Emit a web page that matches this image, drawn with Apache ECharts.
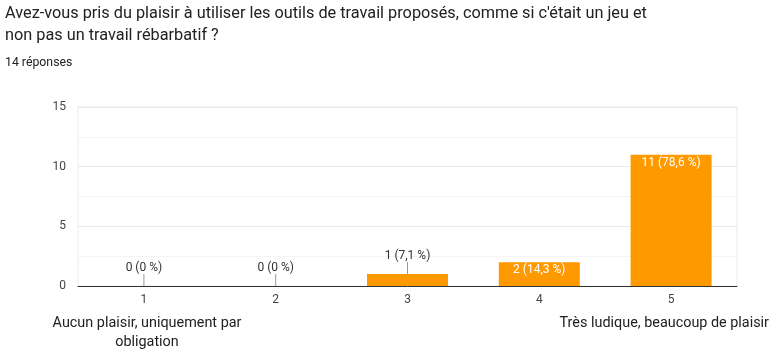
<!DOCTYPE html>
<html><head><meta charset="utf-8">
<script src="https://cdn.jsdelivr.net/npm/echarts@6/dist/echarts.min.js"></script>
<style>html,body{margin:0;padding:0;background:#fff}#c{width:780px;height:357px}</style>
</head><body><div id="c"></div>
<script>
const titleLines = ["Avez-vous pris du plaisir à utiliser les outils de travail proposés, comme si c'était un jeu et", "non pas un travail rébarbatif ?"];
const subtitle = "14 réponses";
const categories = ["1", "2", "3", "4", "5"];
const counts = [0, 0, 1, 2, 11];
const percents = ["0", "0", "7,1", "14,3", "78,6"];
const yTicks = [0, 5, 10, 15];
const lowLabel = ["Aucun plaisir, uniquement par", "obligation"];
const highLabel = "Très ludique, beaucoup de plaisir";

const FONT = "Roboto, 'Noto Sans', Arial, sans-serif";
const INSIDE_MIN = 2;

// pick a font size so a text line spans a target width (layout only)
const ctx = document.createElement('canvas').getContext('2d');
function fitSize(text, targetWidth, base) {
  ctx.font = base + 'px ' + FONT;
  const w = ctx.measureText(text).width;
  return Math.round(base * targetWidth / w * 10) / 10;
}
const titleSize = fitSize(titleLines[0], 644, 16);
const subSize = fitSize(subtitle, 67.5, 12);
const lowSize = fitSize(lowLabel[0], 189, 14);
const highSize = fitSize(highLabel, 209, 14);

const barData = counts.map((v, i) => {
  const inside = v >= INSIDE_MIN;
  return {
    value: v,
    label: inside
      ? { position: 'insideTop', distance: 2, color: '#ffffff' }
      : { position: 'top', distance: 12, color: '#333333' }
  };
});

const chart = echarts.init(document.getElementById('c'), null, { renderer: 'canvas' });
chart.setOption({
  animation: false,
  textStyle: { fontFamily: FONT },
  title: [
    { text: titleLines.join('\n'), left: 5, top: 3, padding: 0,
      textStyle: { fontFamily: FONT, fontSize: titleSize, fontWeight: 'normal', color: '#202124', lineHeight: 22 } },
    { text: subtitle, left: 5, top: 56, padding: 0,
      textStyle: { fontFamily: FONT, fontSize: subSize, fontWeight: 'normal', color: '#202124', lineHeight: 14 } }
  ],
  grid: { left: 78, right: 43, top: 107, bottom: 71, show: true, borderColor: '#ebebeb', borderWidth: 1 },
  xAxis: {
    type: 'category', data: categories,
    axisLine: { lineStyle: { color: '#333333', width: 1 } },
    axisTick: { show: false },
    axisLabel: { color: '#444444', fontSize: 12, margin: 8, fontFamily: FONT }
  },
  yAxis: {
    type: 'value', min: yTicks[0], max: yTicks[yTicks.length - 1], interval: 5,
    axisLine: { show: false }, axisTick: { show: false },
    axisLabel: { color: '#444444', fontSize: 12, margin: 12, fontFamily: FONT },
    splitLine: { lineStyle: { color: '#e8e8e8' } },
    minorTick: { show: false, splitNumber: 2 },
    minorSplitLine: { show: true, lineStyle: { color: '#f4f4f4' } }
  },
  series: [
    {
      type: 'bar', data: barData, barWidth: 81,
      itemStyle: { color: '#ff9900' },
      label: {
        show: true, fontSize: 12, fontFamily: FONT,
        formatter: p => p.value + ' (' + percents[p.dataIndex] + ' %)'
      },
      z: 2
    },
    {
      type: 'custom', z: 3, silent: true,
      data: counts.map((v, i) => [i, v]),
      renderItem: (params, api) => {
        const v = api.value(1);
        if (v >= INSIDE_MIN) return null;
        const p = api.coord([api.value(0), v]);
        return { type: 'line', shape: { x1: p[0], y1: p[1], x2: p[0], y2: p[1] - 12 },
          style: { stroke: '#999999', lineWidth: 1 } };
      }
    }
  ],
  graphic: [
    { type: 'text', x: 147, y: 314,
      style: { text: lowLabel.join('\n'), font: lowSize + 'px ' + FONT, fill: '#202124', textAlign: 'center', textVerticalAlign: 'top', lineHeight: 19 } },
    { type: 'text', x: 769, y: 314,
      style: { text: highLabel, font: highSize + 'px ' + FONT, fill: '#202124', textAlign: 'right', textVerticalAlign: 'top', lineHeight: 19 } }
  ]
});
</script></body></html>
